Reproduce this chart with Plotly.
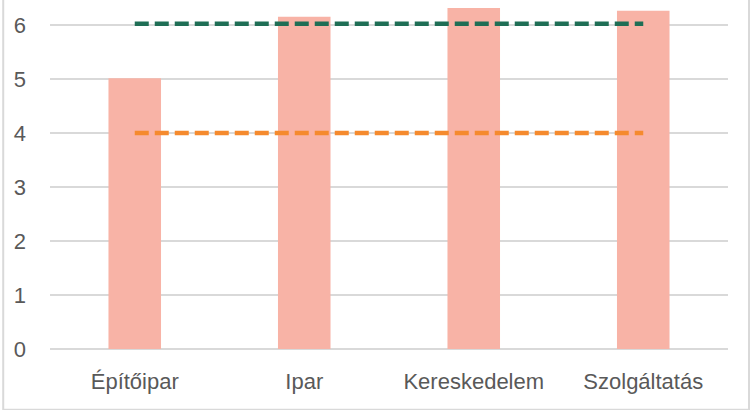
import plotly.graph_objects as go

# data
categories = ["Építőipar", "Ipar", "Kereskedelem", "Szolgáltatás"]
bar_values = [5.01, 6.15, 6.31, 6.26]
upper_line = [6.02, 6.02, 6.02, 6.02]
lower_line = [4.0, 4.0, 4.0, 4.0]
y_ticks = [0, 1, 2, 3, 4, 5, 6]

fig = go.Figure()

fig.add_trace(go.Bar(x=categories, y=bar_values, marker_color="#F8B3A6",
                     marker_line_width=0, showlegend=False))
fig.add_trace(go.Scatter(x=categories, y=upper_line, mode="lines",
                         line=dict(color="#1F6E55", width=4.5, dash="14px,6px"),
                         showlegend=False))
fig.add_trace(go.Scatter(x=categories, y=lower_line, mode="lines",
                         line=dict(color="#F58A2E", width=4.5, dash="14px,6px"),
                         showlegend=False))

fig.update_layout(
    width=752, height=410,
    margin=dict(l=50, r=24, t=0, b=61),
    paper_bgcolor="white", plot_bgcolor="white",
    bargap=0.69,
    font=dict(family="Liberation Sans, Arial, sans-serif", size=22, color="#595959"),
    shapes=[dict(type="rect", xref="paper", yref="paper",
                 x0=-0.069, x1=1.031, y0=-0.174, y1=1.02,
                 line=dict(color="#D9D9D9", width=2), layer="below")],
)
fig.update_xaxes(showgrid=False, showline=False, ticks="", ticklabelstandoff=17)
fig.update_yaxes(range=[0, 6.46], tickvals=y_ticks, showgrid=True,
                 gridcolor="#D9D9D9", gridwidth=1.5, zeroline=True,
                 zerolinecolor="#D9D9D9", zerolinewidth=1.5,
                 showline=False, ticks="", ticklabelstandoff=23)

# the page has a default body margin; drop it so the figure sits at 0,0
fig.write_html("out.html", config={"displayModeBar": False},
               post_script="document.body.style.margin='0';")
